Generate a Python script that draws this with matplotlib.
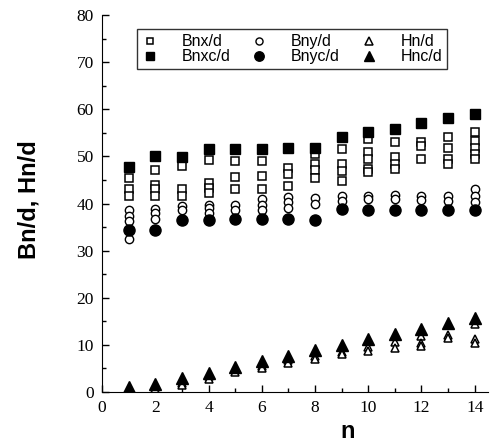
import matplotlib
matplotlib.use('Agg')
import matplotlib.pyplot as plt

n = list(range(1, 15))

bnx = [[45.5, 43.0, 41.7], [47.2, 44.0, 43.0, 41.6], [48.0, 43.0, 41.7],
       [49.3, 44.4, 43.4, 42.3], [49.1, 45.7, 43.1], [49.1, 45.8, 43.0],
       [47.6, 46.2, 43.7], [50.5, 48.4, 47.1, 45.5], [51.6, 48.4, 46.9, 44.8],
       [53.7, 50.9, 49.4, 47.4, 46.6], [53.0, 49.8, 48.5, 47.3],
       [53.1, 52.3, 49.4], [54.1, 51.9, 49.4, 48.4],
       [55.1, 53.3, 51.9, 50.5, 49.4]]
bny = [[38.6, 37.4, 36.3, 32.5], [38.9, 37.9, 36.7], [39.4, 38.6],
       [39.8, 39.1, 38.1], [39.6, 38.6], [40.9, 39.6, 38.6],
       [41.4, 40.3, 39.1], [41.2, 40.0], [41.6, 40.5], [41.7, 40.9],
       [41.9, 40.9], [41.6, 40.7], [41.6, 40.5], [43.0, 41.6, 40.3]]
hn = [[0.5], [1.0, 0.6], [2.0, 1.5], [3.5, 2.7], [4.8, 4.2], [5.6, 5.0],
      [6.9, 6.2], [7.6, 7.0], [8.6, 8.0], [9.5, 8.7], [10.7, 9.3],
      [11.8, 10.5, 9.8], [12.2, 11.4], [14.5, 11.2, 10.5]]
bnxc = [47.8, 50.0, 49.8, 51.6, 51.6, 51.6, 51.7, 51.7, 54.1, 55.1, 55.8,
        57.1, 58.1, 59.1]
bnyc = [34.4, 34.4, 36.6, 36.6, 36.7, 36.7, 36.8, 36.6, 38.9, 38.6, 38.6,
        38.6, 38.6, 38.6]
hnc = [1.0, 1.8, 2.9, 4.1, 5.4, 6.6, 7.7, 8.9, 10.0, 11.2, 12.3, 13.3,
       14.6, 15.7]


def flat(groups):
    xs, ys = [], []
    for x, vals in zip(n, groups):
        for v in vals:
            xs.append(x)
            ys.append(v)
    return xs, ys


fig = plt.figure(figsize=(4.98, 4.44), dpi=100)
ax = fig.add_axes([0.205, 0.117, 0.775, 0.849])

x, y = flat(bnx)
h1, = ax.plot(x, y, 's', ms=5.5, mfc='white', mec='black', mew=1.1, label='Bnx/d')
x, y = flat(bny)
h3, = ax.plot(x, y, 'o', ms=6, mfc='white', mec='black', mew=1.0, label='Bny/d')
x, y = flat(hn)
h5, = ax.plot(x, y, '^', ms=6, mfc='white', mec='black', mew=1.1, label='Hn/d')
h2, = ax.plot(n, bnxc, 's', ms=7.5, color='black', label='Bnxc/d')
h4, = ax.plot(n, bnyc, 'o', ms=8, color='black', label='Bnyc/d')
h6, = ax.plot(n, hnc, '^', ms=8.5, color='black', label='Hnc/d')

ax.set_xlim(0, 14.5)
ax.set_ylim(0, 80)
ax.set_xticks(range(0, 15, 2))
ax.set_xticks(range(1, 15, 2), minor=True)
ax.set_yticks(range(0, 81, 10))
ax.set_yticks(range(5, 80, 10), minor=True)
ax.tick_params(direction='in', which='major', length=5, width=1,
               labelsize=12.5, pad=6)
ax.tick_params(direction='in', which='minor', length=3, width=1)
for lab in ax.get_xticklabels() + ax.get_yticklabels():
    lab.set_family('Liberation Serif')
ax.spines['top'].set_visible(False)
ax.spines['right'].set_visible(False)

ax.set_ylabel('Bn/d, Hn/d', fontsize=17, fontweight='bold',
              family='Liberation Sans')
ax.yaxis.set_label_coords(-0.16, 0.51)
ax.set_xlabel('n', fontsize=17, fontweight='bold', family='Liberation Sans')
ax.xaxis.set_label_coords(0.637, -0.075)

leg = ax.legend(handles=[h1, h2, h3, h4, h5, h6], ncol=3,
                loc='upper left', bbox_to_anchor=(0.09, 0.962),
                prop={'family': 'Liberation Sans', 'size': 11.5},
                frameon=True, fancybox=False, edgecolor='black',
                handlelength=1.0, handletextpad=1.5, columnspacing=1.3,
                labelspacing=0.0, borderpad=0.3, borderaxespad=0.0,
                markerscale=0.85)
leg.get_frame().set_linewidth(1.0)

fig.savefig('out.png', dpi=100)
